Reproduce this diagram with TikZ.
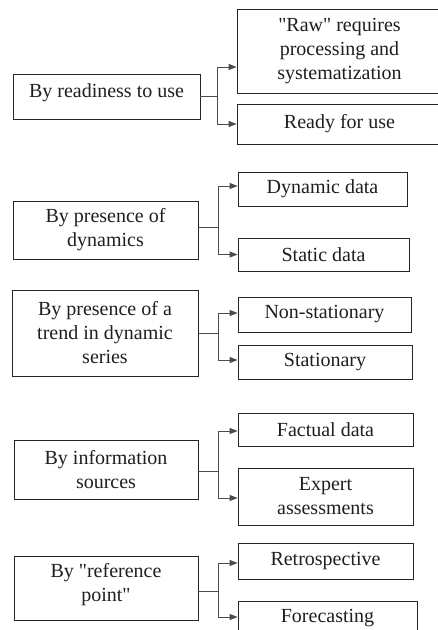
\documentclass[tikz,border=0pt]{standalone}
\usepackage{fontspec}
\setmainfont{Liberation Serif}[Ligatures=TeXOff]
\usetikzlibrary{arrows.meta}
\begin{document}
\begin{tikzpicture}[x=1pt,y=-1pt,
  txt/.style={align=center, inner sep=0pt, font=\fontsize{20}{24}\selectfont, text=black!88},
  box/.style={txt, draw=black!85, line width=0.8pt},
  line/.style={draw=black!70, line width=0.8pt},
  conn/.style={line, -{Triangle[length=8pt,width=6pt]}}]
\clip (0,0) rectangle (438,630);
\fill[white] (0,0) rectangle (438,630);
% group 1
\node[box, minimum width=187pt, minimum height=45pt] (p1) at (106.5,96.5) {};
\node[txt] (t1) at ([yshift=4pt]p1.center) {By readiness to use};
\node[box, minimum width=205pt, minimum height=84pt] (c1a) at (339.5,51) {"Raw" requires\\processing and\\systematization};
\node[box, minimum width=205pt, minimum height=40pt] (c1b) at (339.5,124) {Ready for use};
% group 2
\node[box, minimum width=185pt, minimum height=58pt] (p2) at (105.5,230) {By presence of\\dynamics};
\node[box, minimum width=169pt, minimum height=34pt] (c2a) at (322.5,189) {Dynamic data};
\node[box, minimum width=171pt, minimum height=33pt] (c2b) at (323.5,254.5) {Static data};
% group 3
\node[box, minimum width=186pt, minimum height=86pt] (p3) at (105,333) {By presence of a\\trend in dynamic\\series};
\node[box, minimum width=173pt, minimum height=35pt] (c3a) at (324.5,314.5) {Non-stationary};
\node[box, minimum width=174pt, minimum height=34pt] (c3b) at (325,362) {Stationary};
% group 4
\node[box, minimum width=184pt, minimum height=59pt] (p4) at (106,469.5) {By information\\sources};
\node[box, minimum width=175pt, minimum height=33pt] (c4a) at (325.5,429.5) {Factual data};
\node[box, minimum width=175pt, minimum height=57pt] (c4b) at (325.5,496.5) {Expert\\assessments};
% group 5
\node[box, minimum width=184pt, minimum height=64pt] (p5) at (106,588) {};
\node[txt] (t5) at ([yshift=3pt]p5.center) {By "reference\\point"};
\node[box, minimum width=175pt, minimum height=36pt] (c5a) at (325.5,561) {Retrospective};
\node[box, minimum width=179pt, minimum height=34pt] (c5b) at (327.5,618) {Forecasting};
% connectors
\draw[line] (p1.east) -- ++(17,0) coordinate (j1);
\draw[conn] (j1) |- ([yshift=-16pt]c1a.west);
\draw[conn] (j1) |- (c1b.west);
\draw[line] ([yshift=3pt]p2.east) -- ++(20,0) coordinate (j2);
\draw[conn] (j2) |- ([yshift=3pt]c2a.west);
\draw[conn] (j2) |- (c2b.west);
\draw[line] (p3.east) -- ++(20,0) coordinate (j3);
\draw[conn] (j3) |- ([yshift=1.5pt]c3a.west);
\draw[conn] (j3) |- ([yshift=2pt]c3b.west);
\draw[line] ([yshift=-1.5pt]p4.east) -- ++(20,0) coordinate (j4);
\draw[conn] (j4) |- ([yshift=-1.5pt]c4a.west);
\draw[conn] (j4) |- ([yshift=-1.5pt]c4b.west);
\draw[line] ([yshift=-3pt]p5.east) -- ++(20,0) coordinate (j5);
\draw[conn] (j5) |- ([yshift=-2pt]c5a.west);
\draw[conn] (j5) |- ([yshift=1pt]c5b.west);
\end{tikzpicture}
\end{document}
